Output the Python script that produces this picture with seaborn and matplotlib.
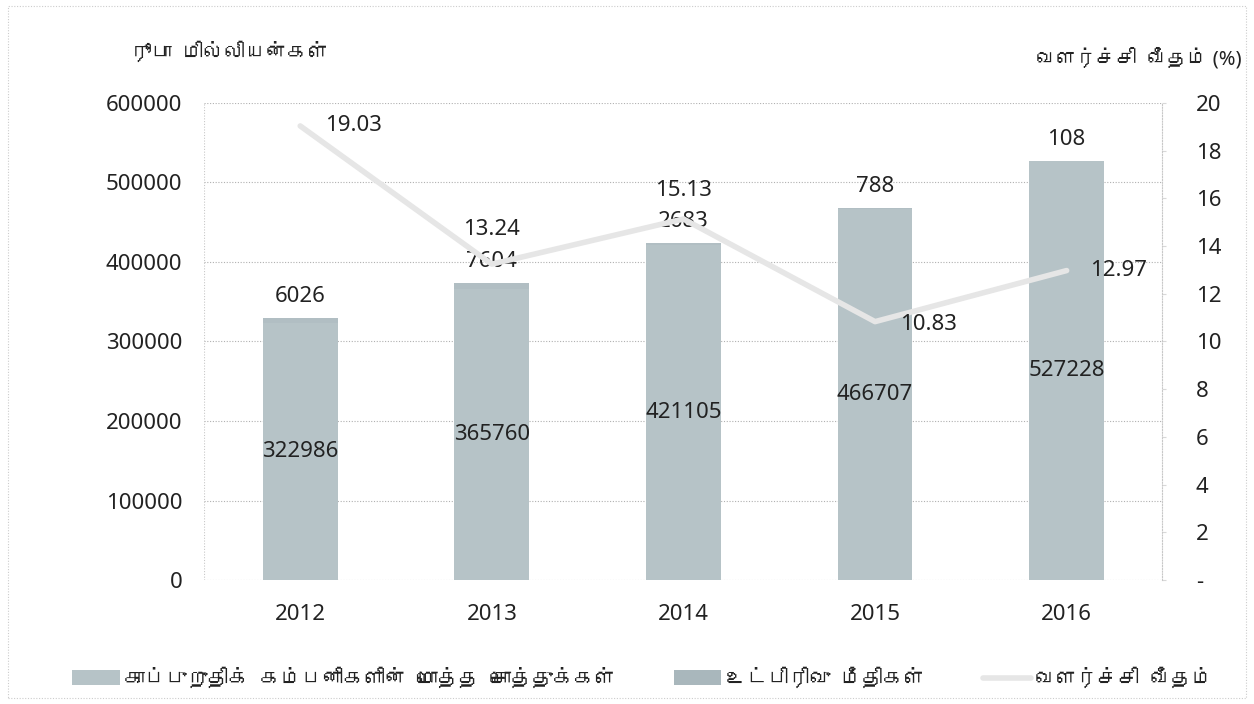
import pandas as pd
import seaborn as sns
import matplotlib.pyplot as plt
from matplotlib import font_manager
from matplotlib.ft2font import FT2Font
from matplotlib.patches import Patch, Rectangle
from matplotlib.lines import Line2D


# ----------------------------
# Data
# ----------------------------

years         = ["2012", "2013", "2014", "2015", "2016"]
total_assets  = [322986, 365760, 421105, 466707, 527228]
sub_balances  = [6026, 7604, 2683, 788, 108]
growth_rate   = [19.03, 13.24, 15.13, 10.83, 12.97]

left_ticks    = [0, 100000, 200000, 300000, 400000, 500000, 600000]
right_ticks   = [0, 2, 4, 6, 8, 10, 12, 14, 16, 18, 20]
right_labels  = ["-", "2", "4", "6", "8", "10", "12", "14", "16", "18", "20"]

left_title    = "ரூபா  மில்லியன்கள்"
right_title   = "வளர்ச்சி  வீதம் (%)"
legend_labels = ["காப்புறுதிக்  கம்பனிகளின்  மொத்த  சொத்துக்கள்",
                 "உட்பிரிவு  மீதிகள்",
                 "வளர்ச்சி  வீதம்"]


# ----------------------------
# Fonts: find something with Tamil glyphs if present
# ----------------------------

def find_family(ch):
    for f in font_manager.fontManager.ttflist:
        try:
            if ord(ch) in FT2Font(f.fname).get_charmap():
                return f.name
        except Exception:
            pass
    return None


sns.set_style("white")
tamil = find_family("ம")
families = ["Noto Sans", "DejaVu Sans"]
if tamil:
    families = ["Noto Sans", tamil, "DejaVu Sans"]
plt.rcParams["font.family"] = families

df = pd.DataFrame({
    "year": years,
    "assets": total_assets,
    "stack": [a + b for a, b in zip(total_assets, sub_balances)],
    "growth": growth_rate,
})

bar_col   = "#b6c3c7"
sub_col   = "#b1bec3"
line_col  = "#e6e6e6"
grid_col  = "#b0b0b0"
text_col  = "#222222"
fs        = 16

fig = plt.figure(figsize=(12.54, 7.04), dpi=100)
ax = fig.add_axes([0.163, 0.176, 0.764, 0.678])

sns.barplot(data=df, x="year", y="stack", color=sub_col, width=0.39, ax=ax,
            linewidth=0, saturation=1, zorder=2)
sns.barplot(data=df, x="year", y="assets", color=bar_col, width=0.39, ax=ax,
            linewidth=0, saturation=1, zorder=3)

ax.set_ylim(0, 600000)
ax.set_yticks(left_ticks)
ax.set_yticklabels([str(t) for t in left_ticks])
ax.set_xlim(-0.5, 4.5)
ax.set_xlabel("")
ax.set_ylabel("")
ax.tick_params(axis="both", labelsize=fs, colors=text_col, length=0)
ax.tick_params(axis="y", pad=16)
ax.tick_params(axis="x", pad=17)
ax.yaxis.grid(True, linestyle=(0, (1, 1.5)), color=grid_col, linewidth=0.8, zorder=0)
ax.set_axisbelow(True)
for side in ["top", "left", "right", "bottom"]:
    ax.spines[side].set_visible(False)
ax.axvline(-0.5, color="#c8c8c8", linestyle=(0, (1, 1.5)), linewidth=0.8)

for i, (a, s) in enumerate(zip(total_assets, sub_balances)):
    ax.text(i, a / 2, str(a), ha="center", va="center", fontsize=fs, color=text_col, zorder=6)
    ax.text(i, a + s + 27000, str(s), ha="center", va="center", fontsize=fs, color=text_col, zorder=6)

# growth rate on the secondary axis
ax2 = ax.twinx()
sns.lineplot(data=df, x="year", y="growth", color=line_col, linewidth=4, ax=ax2, zorder=5,
             sort=False)
ax2.set_ylim(0, 20)
ax2.set_yticks(right_ticks)
ax2.set_yticklabels(right_labels)
ax2.set_ylabel("")
ax2.tick_params(axis="y", labelsize=fs, colors=text_col, length=3, pad=21)
ax2.tick_params(axis="y", color="#d8d8d8")
for side in ["top", "left", "bottom"]:
    ax2.spines[side].set_visible(False)
ax2.spines["right"].set_color("#c8c8c8")
ax2.spines["right"].set_linestyle((0, (1, 1.5)))
ax2.spines["right"].set_linewidth(0.8)

# label offsets (category units, percent units, alignment)
offsets = [(0.13, 0.0, "left"), (0, 1.43, "center"), (0, 1.2, "center"),
           (0.13, -0.1, "left"), (0.12, 0.0, "left")]
for i, (g, (dx, dy, ha)) in enumerate(zip(growth_rate, offsets)):
    ax2.text(i + dx, g + dy, f"{g:.2f}", ha=ha, va="center", fontsize=fs, color=text_col, zorder=6)

fig.text(0.104, 0.925, left_title, fontsize=15, color=text_col, ha="left", va="center")
fig.text(0.99, 0.917, right_title, fontsize=14.5, color=text_col, ha="right", va="center")

handles = [Patch(facecolor=bar_col, edgecolor="none"),
           Patch(facecolor="#a9b7bc", edgecolor="none"),
           Line2D([0], [0], color=line_col, linewidth=4)]
fig.legend(handles, legend_labels, loc="center", bbox_to_anchor=(0.512, 0.035), ncol=3,
           frameon=False, fontsize=15, handlelength=2.3, handletextpad=0.2,
           columnspacing=2.8, labelcolor=text_col)

fig.patches.append(Rectangle((0.006, 0.008), 0.988, 0.984, transform=fig.transFigure,
                             fill=False, edgecolor="#cccccc", linestyle=(0, (1, 1.5)),
                             linewidth=0.8))

fig.savefig("out.png", dpi=100)
plt.close()
